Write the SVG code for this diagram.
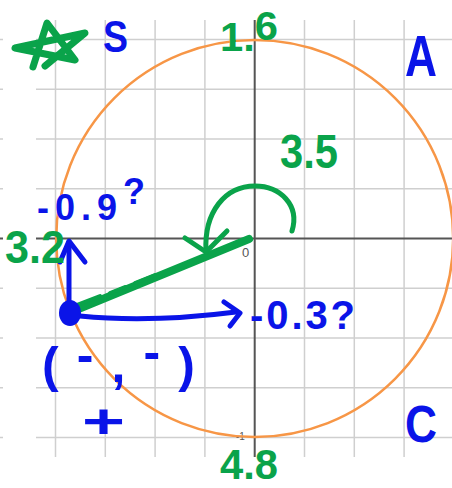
<svg xmlns="http://www.w3.org/2000/svg" width="452" height="488" viewBox="0 0 452 488">
<style>
.grid{stroke:#cfcfcf;stroke-width:1.5;fill:none}
.axis{stroke:#555;stroke-width:2;fill:none}
.tick{font-family:"Liberation Sans",Arial,sans-serif;fill:#555}
.hand{font-family:"Liberation Sans",Arial,sans-serif;font-weight:bold}
.g{fill:#0aa34a}
.b{fill:#0a14e8}
.gs{stroke:#0aa34a;fill:none;stroke-linecap:round;stroke-linejoin:round}
.bs{stroke:#0a14e8;fill:none;stroke-linecap:round;stroke-linejoin:round}
</style>
<rect width="452" height="488" fill="#fff"/>
<g id="grid">
<path class="grid" d="M55.5,20V457M105.3,20V457M155.1,20V457M204.9,20V457M304.5,20V457M354.3,20V457M404.1,20V457"/>
<path class="grid" d="M36,39.5H452M36,89.3H452M36,139H452M36,188.8H452M36,288.3H452M36,338H452M36,387.8H452M36,437.5H452"/>
<path class="grid" d="M0,39.5H3M0,89.3H3M0,139H3M0,188.8H3M0,288.3H3M0,338H3M0,387.8H3M0,437.5H3"/>
<path class="axis" d="M254.7,20V457M36,238.5H452M0,238.5H3"/>
<text class="tick" x="242" y="257" font-size="13">0</text>
<text class="tick" x="236" y="440" font-size="10">-1</text>
</g>
<g id="circle">
<circle cx="254.7" cy="238.5" r="198.5" fill="none" stroke="#f79646" stroke-width="2.5"/>
</g>
<g id="connectors">
<path class="gs" stroke-width="8" d="M76,310L249,239"/>
<path class="gs" stroke-width="4" d="M74,306L100,296M110,293L125,287M135,283L155,275"/>
<path class="gs" stroke-width="5" d="M292,231C300,205 280,186 255,186C225,186 204,212 206,251"/>
<path class="gs" stroke-width="5" d="M185,238L206,252L227,231"/>
<path class="bs" stroke-width="5" d="M69,305V242"/>
<path class="bs" stroke-width="5" d="M60,262L69,241L85,262"/>
<path class="bs" stroke-width="5" d="M80,316Q150,323 236,312"/>
<path class="bs" stroke-width="5" d="M224,302L240,313L230,326"/>
<ellipse cx="70" cy="313" rx="11" ry="13" fill="#0a14e8"/>
</g>
<g id="star">
<path class="gs" stroke-width="7" d="M33,67L47,23L75,60L15,48L85,33L45,66"/>
</g>
<g id="labels">
<text class="hand b" x="103" y="52" font-size="45" textLength="25" lengthAdjust="spacingAndGlyphs">S</text>
<text class="hand g" x="220" y="51" font-size="40" textLength="58" lengthAdjust="spacingAndGlyphs">1.<tspan dy="-11">6</tspan></text>
<text class="hand b" x="405" y="76" font-size="58" textLength="32" lengthAdjust="spacingAndGlyphs">A</text>
<text class="hand g" x="280" y="168" font-size="48" textLength="58" lengthAdjust="spacingAndGlyphs">3.5</text>
<text class="hand b" x="37" y="220" font-size="36" textLength="108" lengthAdjust="spacing">-0.9<tspan dy="-16">?</tspan></text>
<text class="hand g" x="5" y="263" font-size="46" textLength="60" lengthAdjust="spacingAndGlyphs">3.2</text>
<text class="hand b" x="250" y="329" font-size="40" textLength="105" lengthAdjust="spacing">-0.3?</text>
<text class="hand b" x="42" y="382" font-size="50" textLength="153" lengthAdjust="spacing">(<tspan dy="-10">-</tspan><tspan dy="10">,</tspan><tspan dy="-13">-</tspan><tspan dy="13">)</tspan></text>
<text class="hand b" x="82" y="438" font-size="48" textLength="43" lengthAdjust="spacingAndGlyphs">+</text>
<text class="hand b" x="405" y="442" font-size="52" textLength="32" lengthAdjust="spacingAndGlyphs">C</text>
<text class="hand g" x="220" y="479" font-size="42" textLength="58" lengthAdjust="spacingAndGlyphs">4.8</text>
</g>
</svg>
